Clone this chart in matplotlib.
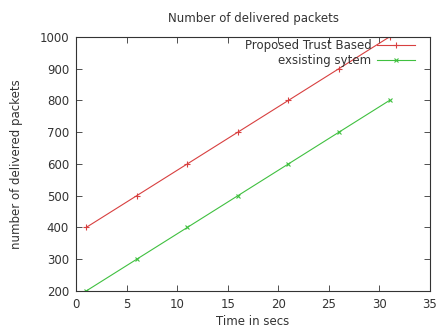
import matplotlib
matplotlib.use('Agg')
import matplotlib.pyplot as plt

# data
time_secs = [1, 6, 11, 16, 21, 26, 31]
proposed = [400, 500, 600, 700, 800, 900, 1000]
existing = [200, 300, 400, 500, 600, 700, 800]

plt.rcParams['font.family'] = 'DejaVu Sans'
plt.rcParams['font.size'] = 8.5

fig = plt.figure(figsize=(4.37, 3.29), dpi=100)
ax = fig.add_axes([0.174, 0.1155, 0.81, 0.7725])

ax.plot(time_secs, proposed, color='#d84040', lw=0.8, marker='+', ms=4, mew=0.8,
        label='Proposed Trust Based')
ax.plot(time_secs, existing, color='#40c040', lw=0.8, marker='x', ms=3.5, mew=0.8,
        label='exsisting sytem')

ax.set_xlim(0, 35)
ax.set_ylim(200, 1000)
ax.set_xticks(range(0, 36, 5))
ax.set_yticks(range(200, 1001, 100))
ax.tick_params(direction='in', top=True, right=True, length=4, width=0.6,
               colors='#333333', labelcolor='#333333', pad=5)
for s in ax.spines.values():
    s.set_linewidth(0.8)
    s.set_color('#333333')

ax.set_title('Number of delivered packets', fontsize=8.5, color='#333333', pad=11)
ax.set_xlabel('Time in secs', color='#333333', labelpad=3)
ax.set_ylabel('number of delivered packets', color='#333333', labelpad=12)

ax.legend(loc='upper right', frameon=False, markerfirst=False, handlelength=3.2,
          borderaxespad=0.1, labelspacing=0.15, handletextpad=0.5, fontsize=8.5,
          bbox_to_anchor=(0.975, 1.015), labelcolor='#333333')

fig.savefig('out.png', dpi=100)
